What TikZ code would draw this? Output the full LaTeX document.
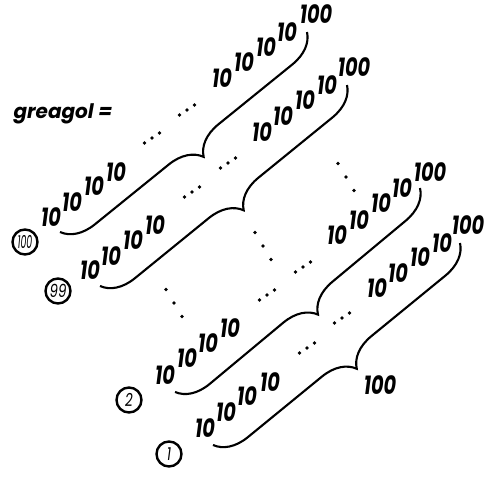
\documentclass[tikz,border=0pt]{standalone}
\usepackage{fontspec}
\setmainfont{Poppins}
\newfontfamily\tenfont{Poppins}[FakeStretch=0.74]
\usetikzlibrary{decorations.pathreplacing}
\tikzset{
  ten/.style={inner sep=0pt, font=\tenfont\fontsize{26}{26}\selectfont\bfseries\itshape},
  lbl/.style={inner sep=0pt, font=\fontsize{20}{20}\selectfont\bfseries\itshape},
  circ/.style={circle, draw, line width=2.4pt, minimum size=25pt, inner sep=0pt, font=\tenfont\fontsize{18}{18}\selectfont\itshape},
  dotn/.style={circle, fill, inner sep=0pt, minimum size=3.6pt},
  bracestyle/.style={line width=2.1pt, decorate, decoration={brace, amplitude=32pt}},
}
\begin{document}
\begin{tikzpicture}[x=1pt,y=-1pt]
\useasboundingbox (0,0) rectangle (491,480);
% title
\node[lbl] (title) at (63,114) {greagol =};
% circled labels
\node[circ] (c100) at (25,242) {\scalebox{0.7}[1]{100}};
\node[circ] (c99) at (58,291) {99};
\node[circ] (c2) at (129,400) {2};
\node[circ] (c1) at (169,454) {1};
% row 100
\node[ten] (a1) at (51,217) {10};
\node[ten] (a2) at (72,202) {10};
\node[ten] (a3) at (94,186) {10};
\node[ten] (a4) at (116,172) {10};
\node[ten] (a5) at (222,78) {10};
\node[ten] (a6) at (244,62) {10};
\node[ten] (a7) at (266,47) {10};
\node[ten] (a8) at (287,32) {10};
\node[ten] (a9) at (316,14) {100};
% row 99
\node[ten] (b1) at (90,270) {10};
\node[ten] (b2) at (111,256) {10};
\node[ten] (b3) at (133,240) {10};
\node[ten] (b4) at (155,225) {10};
\node[ten] (b5) at (262,132) {10};
\node[ten] (b6) at (283,116) {10};
\node[ten] (b7) at (305,100) {10};
\node[ten] (b8) at (327,85) {10};
\node[ten] (b9) at (354,67) {100};
% row 2
\node[ten] (e1) at (165,375) {10};
\node[ten] (e2) at (187,358) {10};
\node[ten] (e3) at (208,343) {10};
\node[ten] (e4) at (230,328) {10};
\node[ten] (e5) at (337,235) {10};
\node[ten] (e6) at (359,220) {10};
\node[ten] (e7) at (381,203) {10};
\node[ten] (e8) at (402,188) {10};
\node[ten] (e9) at (430,172) {100};
% row 1
\node[ten] (f1) at (205,428) {10};
\node[ten] (f2) at (226,412) {10};
\node[ten] (f3) at (247,396) {10};
\node[ten] (f4) at (270,382) {10};
\node[ten] (f5) at (377,288) {10};
\node[ten] (f6) at (398,273) {10};
\node[ten] (f7) at (420,257) {10};
\node[ten] (f8) at (442,243) {10};
\node[ten] (f9) at (468,225) {100};
\node[ten] (count) at (380,385) {100};
% horizontal-ish dots
\foreach \n/\x/\y in {ad1/152/138, ad2/187/110, bd1/192/192, bd2/228/163, ed1/267/295, ed2/303/267, fd1/307/348, fd2/342/318} {
  \node[dotn] (\n a) at (\x-7.5,\y+5) {};
  \node[dotn] (\n b) at (\x,\y) {};
  \node[dotn] (\n c) at (\x+7.5,\y-5) {};
}
% vertical-ish dots
\foreach \n/\x/\y in {va/346/177, vb/263/246, vc/174/303} {
  \node[dotn] (\n a) at (\x-8,\y-13.5) {};
  \node[dotn] (\n b) at (\x,\y) {};
  \node[dotn] (\n c) at (\x+8,\y+13.5) {};
}
% braces
\coordinate (ba) at (60,232); \coordinate (bb) at (307,32);
\coordinate (ca) at (100,286); \coordinate (cb) at (347,85);
\coordinate (ea) at (175,392); \coordinate (eb) at (420,188);
\coordinate (fa) at (213,445); \coordinate (fb) at (460,243);
\draw[bracestyle] (bb) -- (ba);
\draw[bracestyle] (cb) -- (ca);
\draw[bracestyle] (eb) -- (ea);
\draw[bracestyle] (fb) -- (fa);
\end{tikzpicture}
\end{document}
